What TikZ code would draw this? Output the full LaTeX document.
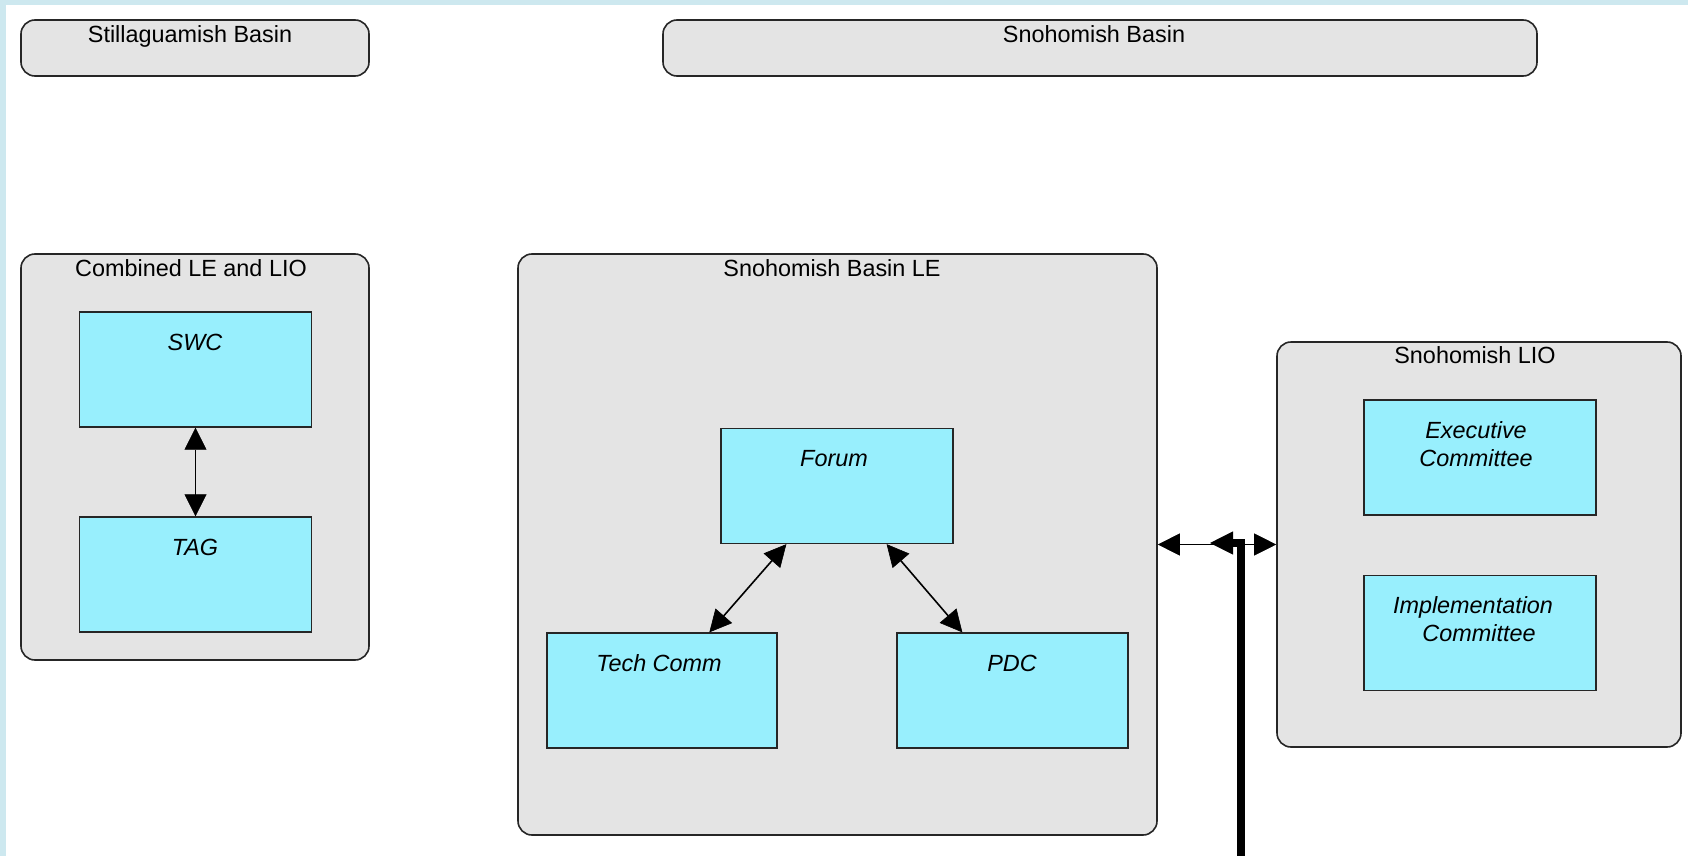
\documentclass[tikz,border=0pt]{standalone}
\usepackage{fontspec}
\setmainfont{Liberation Sans}
\usetikzlibrary{arrows.meta,calc}

\definecolor{bgblue}{HTML}{CDE8EF}
\definecolor{groupgray}{HTML}{E4E4E4}
\definecolor{unitcyan}{HTML}{98EFFD}
\definecolor{edgedark}{HTML}{262626}

\tikzset{
  group/.style={draw=edgedark, line width=1.6pt, fill=groupgray,
    rounded corners=14pt, inner sep=0pt},
  unit/.style={draw=edgedark, line width=1.3pt, fill=unitcyan,
    minimum width=232pt, minimum height=115pt, inner sep=0pt},
  title/.style={anchor=base, inner sep=0pt,
    font=\fontsize{23.4}{28.7}\selectfont},
  unittext/.style={anchor=base, inner sep=0pt, align=center,
    font=\fontsize{23.4}{28.7}\selectfont\itshape},
  conn/.style={line width=1.6pt, {Triangle[length=22pt,width=22pt,line width=0.6pt]}-{Triangle[length=22pt,width=22pt,line width=0.6pt]}},
  feed/.style={line width=8pt, line join=miter,
    -{Triangle[length=23pt,width=23pt,line width=0.5pt]}},
}

\begin{document}
\begin{tikzpicture}[x=1pt, y=-1pt]
  % page background with a light blue margin at the top and left
  \useasboundingbox (0,0) rectangle (1688,856);
  \fill[bgblue] (0,0) rectangle (1688,856);
  \fill[white] (6,5) rectangle (1688,856);

  % basins
  \node[group, minimum width=348pt, minimum height=56pt] (still) at (195,48) {};
  \node[title] (still-t) at (190,43) {Stillaguamish Basin};
  \node[group, minimum width=874pt, minimum height=56pt] (snoh) at (1100,48) {};
  \node[title] (snoh-t) at (1094,43) {Snohomish Basin};

  % Stillaguamish: combined LE and LIO
  \node[group, minimum width=348pt, minimum height=406pt] (comb) at (195,457) {};
  \node[title] (comb-t) at (191,276) {Combined LE and LIO};
  \node[unit] (swc) at (195.5,369.5) {};
  \node[unittext] (swc-t) at (195,350) {SWC};
  \node[unit] (tag) at (195.5,574.5) {};
  \node[unittext] (tag-t) at (195,555) {TAG};

  % Snohomish Basin LE
  \node[group, minimum width=639pt, minimum height=581pt] (le) at (837.5,544.5) {};
  \node[title] (le-t) at (832,276) {Snohomish Basin LE};
  \node[unit] (forum) at (837,486) {};
  \node[unittext] (forum-t) at (834,466.5) {Forum};
  \node[unit, minimum width=230pt] (tech) at (662,690.5) {};
  \node[unittext] (tech-t) at (659,671) {Tech Comm};
  \node[unit, minimum width=231pt] (pdc) at (1012.5,690.5) {};
  \node[unittext] (pdc-t) at (1012,671) {PDC};

  % Snohomish LIO (two-line labels sit on the baseline of their last line)
  \node[group, minimum width=404pt, minimum height=405pt] (lio) at (1479,544.5) {};
  \node[title] (lio-t) at (1475,363) {Snohomish LIO};
  \node[unit] (exec) at (1480,457.5) {};
  \node[unittext] (exec-t) at (1476,466.7) {Executive\\ Committee};
  \node[unit] (impl) at (1480,633) {};
  \node[unittext] (impl-t) at (1473,641.7) {Implementation\\ \hspace*{12pt}Committee};

  % connectors
  \draw[conn] (swc) -- (tag);
  \draw[conn] ([xshift=66pt]forum.south west) -- ([xshift=163pt]tech.north west);
  \draw[conn] ([xshift=-67pt]forum.south east) -- ([xshift=66pt]pdc.north west);
  \draw[conn] (le.east) -- (lio.west);

  % heavy feed line rising from below
  \coordinate (feedbot) at (1241,856);
  \coordinate (feedtip) at (1210,543);
  \draw[feed] (feedbot) |- (feedtip);
\end{tikzpicture}
\end{document}
